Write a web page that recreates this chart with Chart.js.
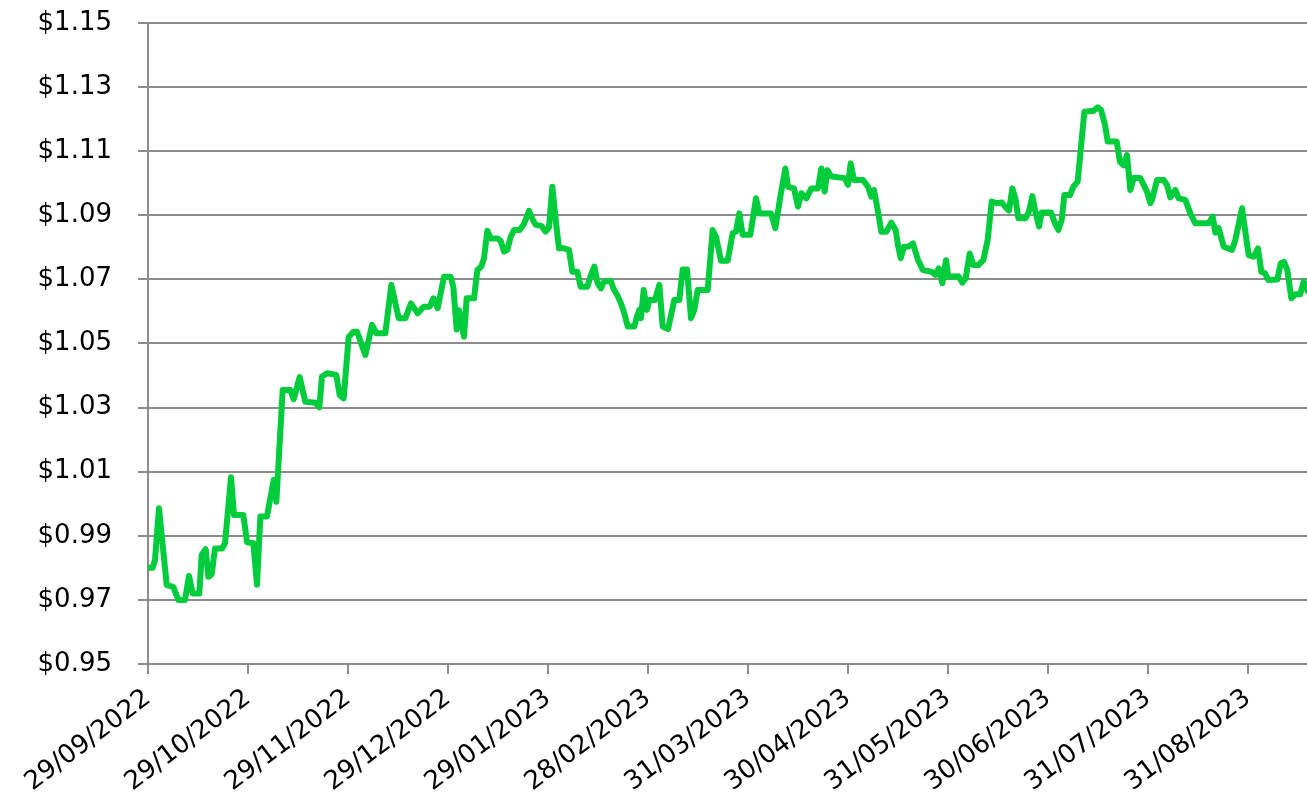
<!DOCTYPE html>
<html>
<head>
<meta charset="utf-8">
<script src="https://cdn.jsdelivr.net/npm/chart.js@4/dist/chart.umd.min.js"></script>
<style>
    body { margin: 0; background: #fff; }
    #wrap { width: 1307px; height: 796px; position: relative; }
</style>
</head>
<body>
<div id="wrap"><canvas id="chart1"></canvas></div>
<script>
// day offsets from 29/09/2022 and the rate read at that point
const dayIdx = [
    0, 1.4, 2.1, 3.3, 5.6, 7.6, 9.1, 11.1, 12.3, 13.4,
    15.4, 16.1, 17.3, 18.1, 19.1, 20.1, 22.2, 23.1, 24.9, 25.8,
    28.6, 29.7, 31.6, 32.7, 33.7, 35.7, 37.7, 38.5, 40.4, 42.7,
    43.7, 45.5, 47.2, 50.2, 51.4, 52.2, 53.7, 56.5, 57.5, 58.7,
    60.2, 61.7, 62.7, 65.2, 67.2, 68.5, 71.2, 73.0, 75.2, 77.2,
    78.9, 80.9, 82.7, 84.5, 85.6, 86.9, 88.8, 90.8, 91.6, 92.6,
    93.3, 94.8, 95.6, 97.8, 98.8, 100.0, 100.8, 101.8, 102.8, 104.8,
    105.8, 106.8, 107.8, 108.8, 109.8, 111.5, 112.8, 114.3, 115.5, 116.3,
    118.0, 119.3, 120.3, 121.3, 122.3, 123.3, 124.8, 126.3, 127.3, 128.8,
    129.8, 131.8, 132.9, 133.9, 134.9, 135.9, 136.8, 138.8, 139.8, 140.8,
    141.9, 142.9, 143.9, 145.9, 146.7, 147.4, 147.9, 148.7, 149.7, 150.4,
    152.1, 153.4, 154.4, 156.0, 157.9, 159.4, 160.4, 161.7, 162.9, 163.9,
    164.9, 167.9, 169.4, 170.4, 171.9, 173.9, 175.4, 176.4, 177.4, 178.4,
    180.7, 182.4, 183.4, 186.9, 188.2, 189.7, 191.2, 192.0, 193.8, 195.0,
    196.0, 197.5, 199.0, 201.0, 202.0, 203.0, 203.8, 205.0, 209.0, 210.0,
    210.8, 211.8, 214.5, 216.0, 217.0, 217.8, 219.0, 220.0, 221.5, 223.0,
    224.3, 225.0, 225.8, 226.8, 228.0, 229.5, 231.0, 232.5, 235.0, 236.2,
    237.2, 238.3, 239.4, 240.1, 243.1, 244.3, 245.3, 246.5, 247.6, 249.1,
    250.6, 251.9, 253.1, 254.6, 256.1, 257.1, 258.3, 259.3, 260.3, 261.1,
    263.3, 264.3, 265.3, 266.1, 267.3, 268.1, 270.9, 272.1, 273.1, 274.1,
    274.9, 276.6, 277.6, 278.9, 279.9, 280.9, 283.6, 284.9, 285.9, 287.1,
    287.9, 290.6, 291.6, 292.7, 293.7, 294.7, 295.7, 297.7, 298.7, 299.7,
    300.7, 301.2, 302.7, 304.7, 305.7, 306.7, 308.2, 309.2, 311.2, 312.7,
    314.2, 318.2, 319.4, 320.2, 321.2, 322.7, 325.2, 326.2, 328.2, 330.2,
    331.7, 333.0, 334.0, 335.1, 336.1, 338.8, 339.8, 340.8, 341.8, 343.0,
    344.2, 345.7, 346.7, 348.0
];

const rate = [
    0.980, 0.980, 0.9825, 0.9986, 0.9747, 0.974, 0.970, 0.970, 0.9775, 0.972,
    0.972, 0.984, 0.9858, 0.9772, 0.978, 0.986, 0.986, 0.9877, 1.0083, 0.9965,
    0.9965, 0.988, 0.9877, 0.9747, 0.996, 0.996, 1.0074, 1.0006, 1.0355, 1.0355,
    1.0326, 1.0395, 1.0318, 1.0315, 1.0301, 1.0397, 1.0407, 1.0402, 1.0339, 1.0329,
    1.052, 1.0537, 1.0537, 1.0464, 1.0558, 1.0532, 1.0532, 1.0683, 1.0579, 1.0579,
    1.0625, 1.0594, 1.0615, 1.0615, 1.0641, 1.0610, 1.0708, 1.0708, 1.0677, 1.0544,
    1.0604, 1.0521, 1.0641, 1.0641, 1.0729, 1.074, 1.0766, 1.0852, 1.0828, 1.0828,
    1.082, 1.0787, 1.0792, 1.0833, 1.0854, 1.0854, 1.0873, 1.0914, 1.0885, 1.0870,
    1.0867, 1.0849, 1.0862, 1.0989, 1.0885, 1.0797, 1.0797, 1.0792, 1.0724, 1.0724,
    1.0677, 1.0677, 1.0714, 1.074, 1.0688, 1.0672, 1.0693, 1.0696, 1.0667, 1.0651,
    1.0625, 1.0594, 1.0553, 1.0553, 1.0584, 1.0605, 1.0579, 1.0667, 1.0605, 1.0636,
    1.0636, 1.0683, 1.0553, 1.0545, 1.0636, 1.0636, 1.0731, 1.0731, 1.0579, 1.0605,
    1.0667, 1.0667, 1.0854, 1.0833, 1.0758, 1.0758, 1.0844, 1.0849, 1.0906, 1.0839,
    1.0839, 1.0953, 1.0906, 1.0906, 1.0860, 1.0958, 1.1046, 1.0989, 1.0984, 1.0927,
    1.0969, 1.0953, 1.0984, 1.0984, 1.1046, 1.0974, 1.1041, 1.1021, 1.1016, 1.0995,
    1.1062, 1.1010, 1.1010, 1.0989, 1.0958, 1.0979, 1.0911, 1.0849, 1.0849, 1.0877,
    1.0854, 1.0807, 1.0766, 1.0802, 1.0802, 1.0812, 1.0760, 1.0729, 1.0724, 1.0714,
    1.0734, 1.0688, 1.0760, 1.0708, 1.0710, 1.0690, 1.0703, 1.0781, 1.0745, 1.0745,
    1.0760, 1.0823, 1.0943, 1.0938, 1.094, 1.0927, 1.0915, 1.0984, 1.0948, 1.0891,
    1.0891, 1.0912, 1.0960, 1.0917, 1.0865, 1.0909, 1.0909, 1.0875, 1.0854, 1.0885,
    1.0963, 1.0963, 1.0989, 1.1005, 1.1114, 1.1223, 1.1226, 1.1237, 1.1229, 1.1182,
    1.1130, 1.1130, 1.1066, 1.1056, 1.1088, 1.0979, 1.1016, 1.1016, 1.0995, 1.0974,
    1.0938, 1.0948, 1.1010, 1.1010, 1.0995, 1.0956, 1.0979, 1.0953, 1.0948, 1.0906,
    1.0875, 1.0875, 1.0896, 1.0846, 1.0860, 1.0802, 1.0792, 1.0823, 1.0922, 1.0776,
    1.0771, 1.0797, 1.0724, 1.0719, 1.0698, 1.0700, 1.0750, 1.0755, 1.0729, 1.0641,
    1.0654, 1.0654, 1.0693, 1.0662
];

const tickDays = [0, 30, 60, 90, 120, 150, 180, 210, 240, 270, 300, 330];
const tickLabels = [
    '29/09/2022', '29/10/2022', '29/11/2022', '29/12/2022',
    '29/01/2023', '28/02/2023', '31/03/2023', '30/04/2023',
    '31/05/2023', '30/06/2023', '31/07/2023', '31/08/2023'
];
const yTicks = [0.95, 0.97, 0.99, 1.01, 1.03, 1.05, 1.07, 1.09, 1.11, 1.13, 1.15];

if (dayIdx.length !== rate.length) {
    throw new Error('dayIdx/rate length mismatch: ' + dayIdx.length + ' vs ' + rate.length);
}

const gridGrey = '#8c8c8c';
const font_axis = { family: 'DejaVu Sans', size: 26 };

const data_rate = {
    datasets: [{
        data: dayIdx.map((d, i) => ({ x: d, y: rate[i] })),
        borderColor: '#00cc3c',
        borderWidth: 6,
        borderJoinStyle: 'round',
        borderCapStyle: 'round',
        pointRadius: 0,
        tension: 0,
        fill: false,
    }],
};

const config_rate = {
    type: 'line',
    data: data_rate,
    options: {
        responsive: true,
        maintainAspectRatio: false,
        animation: false,
        layout: {
            padding: { left: 37, top: 23, right: 0, bottom: 0 },
        },
        plugins: {
            legend: { display: false },
            tooltip: { enabled: false },
        },
        scales: {
            x: {
                type: 'linear',
                min: 0,
                max: 347.7,
                afterBuildTicks: (scale) => {
                    scale.ticks = tickDays.map(v => ({ value: v }));
                },
                afterFit: (scale) => {
                    scale.height = 132;
                    scale.paddingTop = 0;
                    scale.paddingRight = 0;
                },
                grid: {
                    drawOnChartArea: false,
                    drawTicks: true,
                    tickLength: 10,
                    color: gridGrey,
                    lineWidth: 2,
                },
                border: { color: gridGrey, width: 2 },
                ticks: {
                    autoSkip: false,
                    minRotation: 37,
                    maxRotation: 37,
                    padding: 9,
                    color: '#000',
                    font: font_axis,
                    callback: (value) => tickLabels[tickDays.indexOf(value)],
                },
            },
            y: {
                min: 0.95,
                max: 1.15,
                afterBuildTicks: (scale) => {
                    scale.ticks = yTicks.map(v => ({ value: v }));
                },
                afterFit: (scale) => {
                    scale.width = 111;
                    scale.paddingTop = 0;
                    scale.paddingBottom = 0;
                },
                grid: {
                    drawTicks: true,
                    tickLength: 10,
                    color: gridGrey,
                    lineWidth: 2,
                },
                border: { color: gridGrey, width: 2 },
                ticks: {
                    padding: 26,
                    color: '#000',
                    font: font_axis,
                    callback: (value) => '$' + value.toFixed(2),
                },
            },
        },
    },
};

const ctx_rate = document.getElementById('chart1').getContext('2d');
const chart_rate = new Chart(ctx_rate, config_rate);
</script>
</body>
</html>
